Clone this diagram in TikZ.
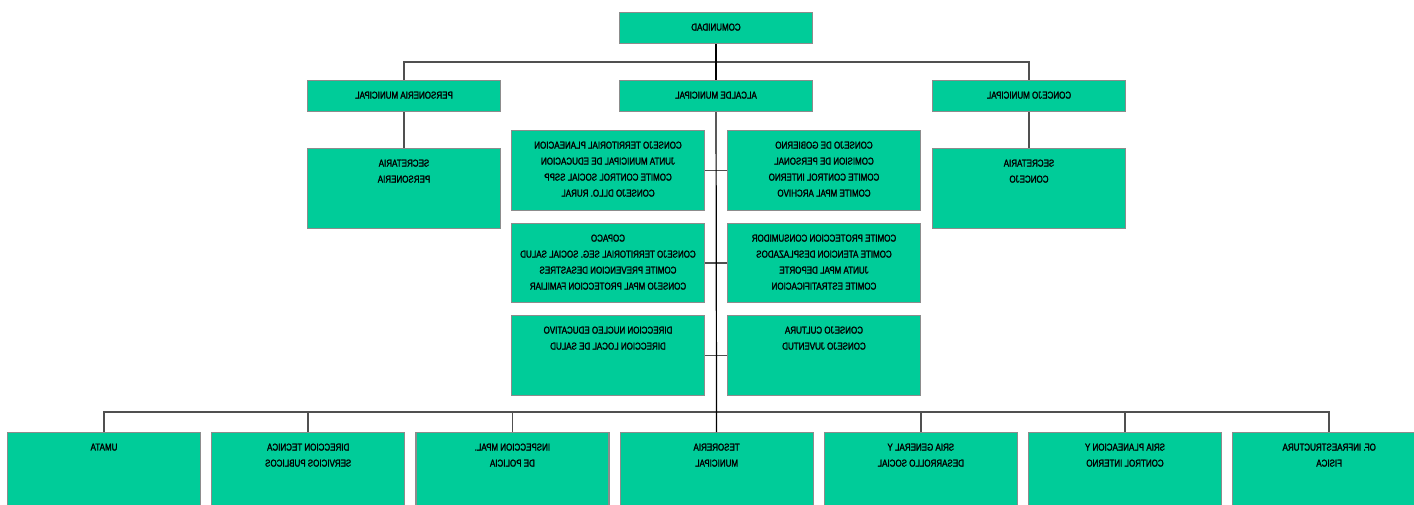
\documentclass[tikz,border=0pt]{standalone}
\usepackage{fontspec}
\newfontfamily\orgfont[FakeStretch=0.8,FakeBold=1.8]{Liberation Sans}
\usetikzlibrary{positioning}
\definecolor{orggreen}{RGB}{0,204,153}
\definecolor{boxgray}{RGB}{140,140,140}
\definecolor{linegray}{RGB}{80,80,80}
\tikzset{unit/.style = {draw=boxgray,line width=1.2pt,fill=orggreen,inner sep=0pt,anchor=north,xscale=-1,
                        font=\orgfont\fontsize{10}{16}\selectfont},
         link/.style = {draw=linegray,line width=1.6pt}}
\newcommand{\unittext}[2]{\parbox[t][#1pt][t]{193pt}{\centering\vspace*{11pt}#2}}

\begin{document}
\begin{tikzpicture}[x=1pt,y=-1pt]
                    \useasboundingbox (0,0) rectangle (1414,504);
                    \clip (0,0) rectangle (1414,504);

                    \node [unit] (comunidad)  at ( 716, 12) {\unittext{31}{COMUNIDAD}};
                    \node [unit] (personeria) at ( 404, 80) {\unittext{31}{PERSONERIA MUNICIPAL}};
                    \node [unit] (alcalde)    at ( 716, 80) {\unittext{31}{ALCALDE MUNICIPAL}};
                    \node [unit] (concejo)    at (1029, 80) {\unittext{31}{CONCEJO MUNICIPAL}};
                    \node [unit] (secper)     at ( 404,148) {\unittext{80}{SECRETARIA\\PERSONERIA}};
                    \node [unit] (secconc)    at (1029,148) {\unittext{80}{SECRETARIA\\CONCEJO}};

                    \node [unit] (junta)      at ( 608,130) {\unittext{80}{CONSEJO TERRITORIAL PLANEACION\\JUNTA MUNICIPAL DE EDUCACION\\COMITE CONTROL SOCIAL SSPP\\CONSEJO DLLO. RURAL}};
                    \node [unit] (gobierno)   at ( 824,130) {\unittext{80}{CONSEJO DE GOBIERNO\\COMISION DE PERSONAL\\COMITE CONTROL INTERNO\\COMITE MPAL ARCHIVO}};
                    \node [unit] (copaco)     at ( 608,223) {\unittext{79}{COPACO\\CONSEJO TERRITORIAL SEG. SOCIAL SALUD\\COMITE PREVENCION DESASTRES\\CONSEJO MPAL PROTECCION FAMILIAR}};
                    \node [unit] (consumidor) at ( 824,223) {\unittext{79}{COMITE PROTECCION CONSUMIDOR\\COMITE ATENCION DESPLAZADOS\\JUNTA MPAL DEPORTE\\COMITE ESTRATIFICACION}};
                    \node [unit] (nucleo)     at ( 608,315) {\unittext{80}{DIRECCION NUCLEO EDUCATIVO\\DIRECCION LOCAL DE SALUD}};
                    \node [unit] (cultura)    at ( 824,315) {\unittext{80}{CONSEJO CULTURA\\CONSEJO JUVENTUD}};

                    \foreach \n/\t [count=\i from 0] in {umata/{UMATA},
                                                         tecnica/{DIRECCION TECNICA\\SERVICIOS PUBLICOS},
                                                         policia/{INSPECCION MPAL.\\DE POLICIA},
                                                         tesoreria/{TESORERIA\\MUNICIPAL},
                                                         general/{SRIA GENERAL Y\\DESARROLLO SOCIAL},
                                                         planeacion/{SRIA PLANEACION Y\\CONTROL INTERNO},
                                                         infra/{OF. INFRAESTRUCTURA\\FISICA}}
                        \node [unit] (\n) at (104+\i*204.2,432) {\unittext{80}{\t}};

                    \coordinate (topbus) at (716,62);
                    \coordinate (lowbus) at (716,412);

                    \draw [link] (personeria.north) |- (topbus) -| (concejo.north);
                    \draw [link] (personeria) -- (secper);
                    \draw [link] (concejo) -- (secconc);
                    \foreach \a/\b in {junta/gobierno, copaco/consumidor, nucleo/cultura}
                        \draw [link] (\a) -- (\b);
                    \draw [link] (umata.north) |- (lowbus) -| (infra.north);
                    \foreach \n in {tecnica, policia, general, planeacion}
                        \draw [link] (lowbus) -| (\n.north);
                    \draw [line width=1.2pt] (comunidad) -- (alcalde);
                    \draw [line width=1.2pt] (alcalde) -- (tesoreria);
                \end{tikzpicture}
\end{document}
